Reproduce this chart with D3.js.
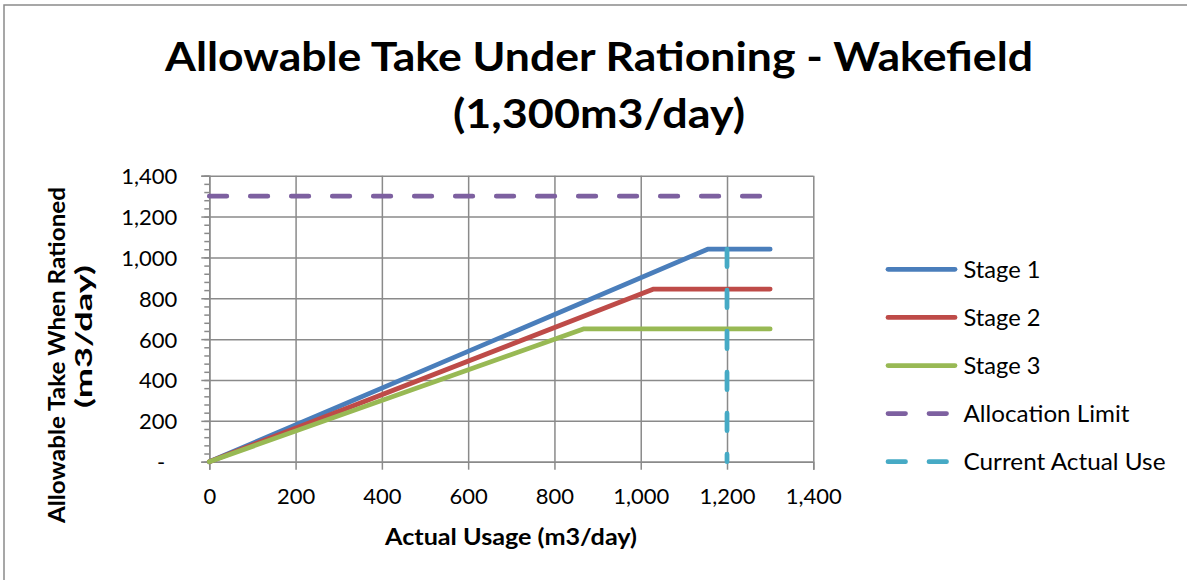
<!DOCTYPE html>
<html>
<head>
<meta charset="utf-8">
<script src="https://cdn.jsdelivr.net/npm/d3@7"></script>
<style>
  html, body { margin: 0; padding: 0; background: #ffffff; }
  svg { display: block; }
</style>
</head>
<body>
<svg id="chart" width="1187" height="580"></svg>
<script>
// Rationing curves: allowable take (m3/day) against actual usage (m3/day)
const seriesNames = ["Stage 1", "Stage 2", "Stage 3", "Allocation Limit", "Current Actual Use"];

const stage1Usage = [0, 1155, 1300];
const stage1Take  = [0, 1040, 1040];

const stage2Usage = [0, 1030, 1300];
const stage2Take  = [0, 845, 845];

const stage3Usage = [0, 867, 1300];
const stage3Take  = [0, 650, 650];

const allocationUsage = [0, 1300];
const allocationTake  = [1300, 1300];

const currentUsage = [1200, 1200];
const currentTake  = [1040, 0];

const xTickValues = [0, 200, 400, 600, 800, 1000, 1200, 1400];
const yTickValues = [0, 200, 400, 600, 800, 1000, 1200, 1400];

const titleLines = ["Allowable Take Under Rationing - Wakefield", "(1,300m3/day)"];
const xAxisTitle = "Actual Usage (m3/day)";
const yAxisTitleLines = ["Allowable Take When Rationed", "(m3/day)"];

const colors = ["#4a7ebb", "#be4b48", "#98b954", "#7d60a0", "#46aac5"];
const dashed = [false, false, false, true, true];

const FONT = "Lato, 'Open Sans', 'Liberation Sans', sans-serif";

const svg = d3.select("#chart");

// outer chart frame
svg.append("rect")
  .attr("x", 4).attr("y", 5)
  .attr("width", 1400).attr("height", 800)
  .attr("fill", "#ffffff")
  .attr("stroke", "#8a8a8a")
  .attr("stroke-width", 1.5);

const plot = { left: 209.3, right: 813.3, top: 175.7, bottom: 461.7 };

const x = d3.scaleLinear().domain([0, 1400]).range([plot.left, plot.right]);
const y = d3.scaleLinear().domain([0, 1400]).range([plot.bottom, plot.top]);

const gridColor = "#8a8a8a";

// horizontal gridlines
svg.append("g")
  .attr("transform", `translate(${plot.left},0)`)
  .call(d3.axisLeft(y).tickValues(yTickValues).tickSize(-(plot.right - plot.left)).tickFormat(""))
  .call(g => g.select(".domain").remove())
  .call(g => g.selectAll("line").attr("stroke", gridColor).attr("stroke-width", 1.5));

// vertical gridlines
svg.append("g")
  .attr("transform", `translate(0,${plot.bottom})`)
  .call(d3.axisBottom(x).tickValues(xTickValues).tickSize(-(plot.bottom - plot.top)).tickFormat(""))
  .call(g => g.select(".domain").remove())
  .call(g => g.selectAll("line").attr("stroke", gridColor).attr("stroke-width", 1.5));

// y axis: minor ticks
svg.append("g")
  .attr("transform", `translate(${plot.left},0)`)
  .call(d3.axisLeft(y).tickValues(d3.range(0, 1401, 40)).tickSize(5).tickFormat(""))
  .call(g => g.select(".domain").remove())
  .call(g => g.selectAll("line").attr("stroke", gridColor).attr("stroke-width", 1.5));

// y axis: major ticks and labels
const yFmt = d3.format(",");
const yAxisG = svg.append("g")
  .attr("transform", `translate(${plot.left},0)`)
  .call(d3.axisLeft(y).tickValues(yTickValues).tickSize(8).tickPadding(24)
    .tickFormat(d => d === 0 ? "-" : yFmt(d)));
yAxisG.select(".domain").attr("stroke", gridColor).attr("stroke-width", 1.5);
yAxisG.selectAll("line").attr("stroke", gridColor).attr("stroke-width", 1.5);
yAxisG.selectAll("text")
  .attr("font-family", FONT).attr("font-size", 22).attr("fill", "#000")
  .attr("x", -32).attr("dy", "0.36em");
yAxisG.selectAll(".tick").filter(d => d === 0).select("text").attr("x", -44);

// x axis
const xFmt = d3.format(",");
const xAxisG = svg.append("g")
  .attr("transform", `translate(0,${plot.bottom})`)
  .call(d3.axisBottom(x).tickValues(xTickValues).tickSize(8).tickFormat(d => xFmt(d)));
xAxisG.select(".domain").attr("stroke", gridColor).attr("stroke-width", 1.5);
xAxisG.selectAll("line").attr("stroke", gridColor).attr("stroke-width", 1.5);
xAxisG.selectAll("text")
  .attr("font-family", FONT).attr("font-size", 22).attr("fill", "#000")
  .attr("y", 42).attr("dy", 0);

// series
const series = [
  { usage: stage1Usage, take: stage1Take },
  { usage: stage2Usage, take: stage2Take },
  { usage: stage3Usage, take: stage3Take },
  { usage: allocationUsage, take: allocationTake },
  { usage: currentUsage, take: currentTake }
].map((s, i) => ({
  name: seriesNames[i],
  color: colors[i],
  dashed: dashed[i],
  points: s.usage.map((u, j) => [u, s.take[j]])
}));

const line = d3.line().x(d => x(d[0])).y(d => y(d[1])).curve(d3.curveLinear);

svg.append("g").selectAll("path")
  .data(series)
  .join("path")
  .attr("d", d => line(d.points))
  .attr("fill", "none")
  .attr("stroke", d => d.color)
  .attr("stroke-width", 4.75)
  .attr("stroke-linejoin", "round")
  .attr("stroke-linecap", "round")
  .attr("stroke-dasharray", d => d.dashed ? "17.5,23.5" : null);

// legend
const legend = svg.append("g");
const legendTop = 269.3, legendStep = 48.1;
const legendWidths = [77, 77, 77, 166, 202];
series.forEach((s, i) => {
  const yy = legendTop + i * legendStep;
  legend.append("line")
    .attr("x1", 888).attr("x2", s.dashed ? 950 : 955)
    .attr("y1", yy).attr("y2", yy)
    .attr("stroke", s.color).attr("stroke-width", 4.75)
    .attr("stroke-linecap", "round")
    .attr("stroke-dasharray", s.dashed ? "17.5,23.5" : null);
  legend.append("text")
    .attr("x", 963.5).attr("y", yy + 8.2)
    .attr("font-family", FONT).attr("font-size", 23).attr("fill", "#000")
    .attr("textLength", legendWidths[i]).attr("lengthAdjust", "spacingAndGlyphs")
    .text(s.name);
});

// chart title
const titleWidths = [868, 292];
const titleBaselines = [70.7, 128];
titleLines.forEach((t, i) => {
  svg.append("text")
    .attr("x", 599).attr("y", titleBaselines[i])
    .attr("text-anchor", "middle")
    .attr("font-family", FONT).attr("font-weight", 700).attr("font-size", 40.5)
    .attr("fill", "#000")
    .attr("textLength", titleWidths[i]).attr("lengthAdjust", "spacingAndGlyphs")
    .text(t);
});

// x axis title
svg.append("text")
  .attr("x", 511).attr("y", 545)
  .attr("text-anchor", "middle")
  .attr("font-family", FONT).attr("font-weight", 700).attr("font-size", 23)
  .attr("fill", "#000")
  .attr("textLength", 252).attr("lengthAdjust", "spacingAndGlyphs")
  .text(xAxisTitle);

// y axis title (rotated, two lines)
const yTitleCenters = [355, 336.5];
const yTitleBaselineX = [65, 92];
const yTitleWidths = [336, 143];
yAxisTitleLines.forEach((t, i) => {
  svg.append("text")
    .attr("transform", `translate(${yTitleBaselineX[i]},${yTitleCenters[i]}) rotate(-90)`)
    .attr("text-anchor", "middle")
    .attr("font-family", FONT).attr("font-weight", 700).attr("font-size", 23)
    .attr("fill", "#000")
    .attr("textLength", yTitleWidths[i]).attr("lengthAdjust", "spacingAndGlyphs")
    .text(t);
});
</script>
</body>
</html>
